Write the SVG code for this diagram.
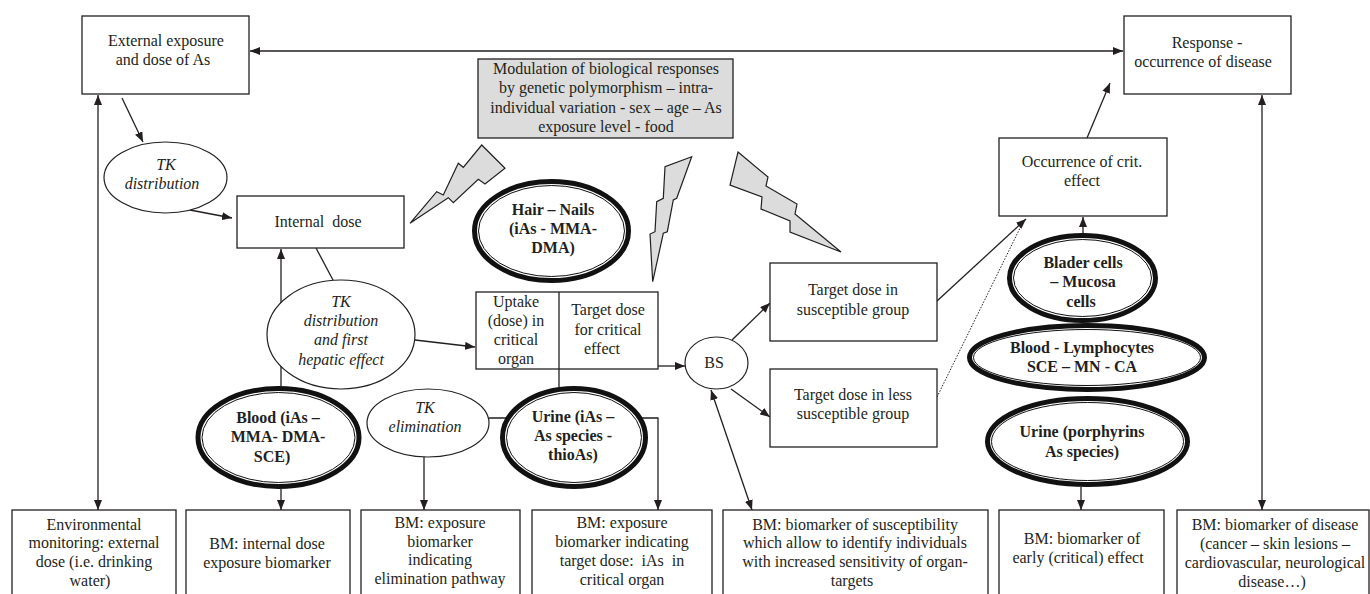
<svg xmlns="http://www.w3.org/2000/svg" width="1370" height="594" viewBox="0 0 1370 594">
<defs>
<style>
text{font-family:"Liberation Serif","Times New Roman",serif;font-size:16px;fill:#231f20;text-anchor:middle}
.i{font-style:italic}
.b{font-weight:bold}
.box{fill:#fff;stroke:#231f20;stroke-width:1.3}
.gray{fill:#dcdcdc;stroke:#231f20;stroke-width:1.3}
.ell{fill:#fff;stroke:#231f20;stroke-width:1.2}
.r1{fill:#fff;stroke:#111;stroke-width:5}
.r2{fill:none;stroke:#111;stroke-width:1}
.bolt{fill:#dcdcdc;stroke:#231f20;stroke-width:1.2;stroke-linejoin:miter}
.c{fill:none;stroke:#231f20;stroke-width:1.3}
.a{marker-end:url(#ah)}
.d{marker-start:url(#ah);marker-end:url(#ah)}
.dot{stroke-dasharray:1.5 1.5;stroke-width:1}
</style>
<marker id="ah" viewBox="0 0 10 8" refX="10" refY="4" markerWidth="10" markerHeight="8" orient="auto-start-reverse" markerUnits="userSpaceOnUse"><path d="M0,0 L10,4 L0,8 z" fill="#231f20"/></marker>
</defs>
<rect width="1370" height="594" fill="#fff"/>

<g id="connectors">
<line class="c d" x1="250" y1="51" x2="1123" y2="51"/>
<line class="c d" x1="98" y1="95" x2="98" y2="510"/>
<line class="c a" x1="122" y1="98" x2="143" y2="142"/>
<line class="c a" x1="190" y1="210" x2="232" y2="218"/>
<line class="c" x1="316" y1="248" x2="333" y2="280"/>
<line class="c a" x1="281" y1="386" x2="281" y2="249"/>
<line class="c a" x1="281" y1="489" x2="281" y2="510"/>
<line class="c a" x1="415" y1="340" x2="475" y2="347"/>
<line class="c" x1="559" y1="369" x2="559" y2="388"/>
<line class="c a" x1="424" y1="457" x2="424" y2="510"/>
<polyline class="c a" points="489,418 658,418 658,510"/>
<line class="c a" x1="658" y1="366" x2="685" y2="366"/>
<line class="c a" x1="732" y1="340" x2="770" y2="303"/>
<line class="c a" x1="731" y1="389" x2="770" y2="417"/>
<line class="c d" x1="711" y1="390" x2="752" y2="510"/>
<line class="c a" x1="937" y1="301" x2="1026" y2="219"/>
<line class="c dot" x1="937" y1="397" x2="1023" y2="222"/>
<line class="c a" x1="1083" y1="233" x2="1083" y2="217"/>
<line class="c a" x1="1087" y1="138" x2="1110" y2="83"/>
<line class="c d" x1="1262" y1="95" x2="1262" y2="510"/>
<line class="c a" x1="1081" y1="487" x2="1081" y2="510"/>
</g>

<g id="bolts">
<polygon class="bolt" points="481.7,145 505,168.3 485,184 478.3,179.3 453.3,202.7 448.3,197.7 410,223.3 436.7,191.7 443.3,195 458.3,163.3 463.3,167.3"/>
<polygon class="bolt" points="691.7,156.7 665,166.7 663.3,198.3 656.7,201.7 655,231.7 650,234 652.7,281.7 663.3,233.3 667.3,231.7 673.3,200 676.7,198.3"/>
<polygon class="bolt" points="738,152 768,177 766,186 797,204 795,214 841,252 790,232 790,221 761,209 762,197 730,185"/>
</g>

<g id="external">
<rect class="box" x="82" y="16" width="167" height="78"/>
<text x="166" y="46">External exposure</text>
<text x="163" y="65">and dose of As</text>
</g>

<g id="response">
<rect class="box" x="1124" y="16" width="167" height="78"/>
<text x="1207" y="48">Response -</text>
<text x="1203" y="67">occurrence of disease</text>
</g>

<g id="modulation">
<rect class="gray" x="478" y="59" width="255" height="79"/>
<text x="606" y="74">Modulation of biological responses</text>
<text x="606" y="93">by genetic polymorphism – intra-</text>
<text x="606" y="113">individual variation - sex – age – As</text>
<text x="606" y="132">exposure level - food</text>
</g>

<g id="tk-distribution">
<ellipse class="ell" cx="165.5" cy="177.5" rx="61.5" ry="35.5"/>
<text class="i" x="166" y="170">TK</text>
<text class="i" x="162" y="189">distribution</text>
</g>

<g id="internal-dose">
<rect class="box" x="237" y="196" width="167" height="52"/>
<text x="318" y="227" xml:space="preserve">Internal  dose</text>
</g>

<g id="hair-nails">
<ellipse class="r1" cx="551.5" cy="231" rx="77" ry="49.5"/>
<ellipse class="r2" cx="551.5" cy="231" rx="73" ry="45.5"/>
<text class="b" x="553" y="215">Hair – Nails</text>
<text class="b" x="553" y="234">(iAs - MMA-</text>
<text class="b" x="553" y="253">DMA)</text>
</g>

<g id="tk-hepatic">
<ellipse class="ell" cx="341" cy="334.5" rx="74" ry="54.5"/>
<text class="i" x="341" y="307">TK</text>
<text class="i" x="341" y="326">distribution</text>
<text class="i" x="341" y="345">and first</text>
<text class="i" x="341" y="365">hepatic effect</text>
</g>

<g id="uptake">
<rect class="box" x="476" y="292" width="182" height="77"/>
<line class="c" x1="559" y1="292" x2="559" y2="369"/>
<text x="516" y="307">Uptake</text>
<text x="516" y="326">(dose) in</text>
<text x="516" y="345">critical</text>
<text x="516" y="364">organ</text>
<text x="608" y="315">Target dose</text>
<text x="608" y="335">for critical</text>
<text x="602" y="354">effect</text>
</g>

<g id="bs">
<ellipse class="ell" cx="716.5" cy="363" rx="31.5" ry="26"/>
<text x="714" y="368">BS</text>
</g>

<g id="target-susceptible">
<rect class="box" x="770" y="263" width="167" height="78"/>
<text x="853" y="295">Target dose in</text>
<text x="853" y="315">susceptible group</text>
</g>

<g id="target-less">
<rect class="box" x="770" y="369" width="167" height="78"/>
<text x="853" y="400">Target dose in less</text>
<text x="853" y="419">susceptible group</text>
</g>

<g id="occurrence">
<rect class="box" x="999" y="138" width="168" height="78"/>
<text x="1082" y="167">Occurrence of crit.</text>
<text x="1082" y="186">effect</text>
</g>

<g id="blood">
<ellipse class="r1" cx="278.5" cy="437.5" rx="80.5" ry="49"/>
<ellipse class="r2" cx="278.5" cy="437.5" rx="76.5" ry="45"/>
<text class="b" x="278" y="423">Blood (iAs –</text>
<text class="b" x="278" y="442">MMA- DMA-</text>
<text class="b" x="272" y="462">SCE)</text>
</g>

<g id="tk-elimination">
<ellipse class="ell" cx="428" cy="423" rx="61" ry="34"/>
<text class="i" x="425" y="413">TK</text>
<text class="i" x="425" y="432">elimination</text>
</g>

<g id="urine">
<ellipse class="r1" cx="574" cy="437.5" rx="71.5" ry="49"/>
<ellipse class="r2" cx="574" cy="437.5" rx="67.5" ry="45"/>
<text class="b" x="573" y="422">Urine (iAs –</text>
<text class="b" x="573" y="441">As species -</text>
<text class="b" x="573" y="460">thioAs)</text>
</g>

<g id="blader">
<ellipse class="r1" cx="1082.5" cy="278" rx="73" ry="42.5"/>
<ellipse class="r2" cx="1082.5" cy="278" rx="69" ry="38.5"/>
<text class="b" x="1083" y="268">Blader cells</text>
<text class="b" x="1083" y="287">– Mucosa</text>
<text class="b" x="1081" y="307">cells</text>
</g>

<g id="blood-lymphocytes">
<ellipse class="r1" cx="1087" cy="357.5" rx="117.5" ry="32"/>
<ellipse class="r2" cx="1087" cy="357.5" rx="113.5" ry="28"/>
<text class="b" x="1082" y="353">Blood - Lymphocytes</text>
<text class="b" x="1082" y="372">SCE – MN - CA</text>
</g>

<g id="urine-porphyrins">
<ellipse class="r1" cx="1087.5" cy="441.5" rx="100" ry="43"/>
<ellipse class="r2" cx="1087.5" cy="441.5" rx="96" ry="39"/>
<text class="b" x="1082" y="437">Urine (porphyrins</text>
<text class="b" x="1082" y="457">As species)</text>
</g>

<g id="bm-environmental">
<rect class="box" x="12" y="510" width="164" height="100"/>
<text x="94" y="530">Environmental</text>
<text x="94" y="548">monitoring: external</text>
<text x="94" y="567">dose (i.e. drinking</text>
<text x="90" y="586">water)</text>
</g>

<g id="bm-internal">
<rect class="box" x="186" y="510" width="164" height="100"/>
<text x="267" y="549">BM: internal dose</text>
<text x="267" y="568">exposure biomarker</text>
</g>

<g id="bm-elimination">
<rect class="box" x="361" y="510" width="159" height="100"/>
<text x="440" y="528">BM: exposure</text>
<text x="440" y="547">biomarker</text>
<text x="440" y="565">indicating</text>
<text x="440" y="584">elimination pathway</text>
</g>

<g id="bm-target">
<rect class="box" x="532" y="510" width="180" height="100"/>
<text x="622" y="528">BM: exposure</text>
<text x="622" y="547">biomarker indicating</text>
<text x="622" y="566" xml:space="preserve">target dose:  iAs  in</text>
<text x="622" y="585">critical organ</text>
</g>

<g id="bm-susceptibility">
<rect class="box" x="723" y="510" width="265" height="100"/>
<text x="855" y="530">BM: biomarker of susceptibility</text>
<text x="855" y="548">which allow to identify individuals</text>
<text x="855" y="567">with increased sensitivity of organ-</text>
<text x="852" y="586">targets</text>
</g>

<g id="bm-early">
<rect class="box" x="999" y="510" width="165" height="100"/>
<text x="1082" y="544">BM: biomarker of</text>
<text x="1078" y="563">early (critical) effect</text>
</g>

<g id="bm-disease">
<rect class="box" x="1177" y="510" width="192" height="100"/>
<text x="1275" y="530">BM: biomarker of disease</text>
<text x="1275" y="549">(cancer – skin lesions –</text>
<text x="1275" y="568">cardiovascular, neurological</text>
<text x="1272" y="587">disease…)</text>
</g>
</svg>
